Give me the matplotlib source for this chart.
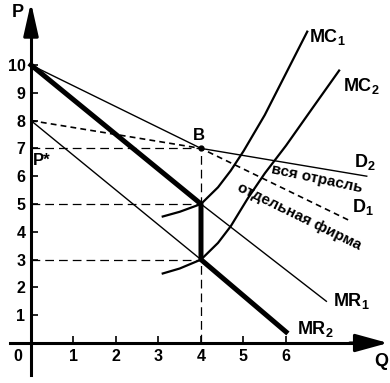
import matplotlib
matplotlib.use("Agg")
import matplotlib.pyplot as plt

plt.rcParams['font.family'] = ['Liberation Sans', 'DejaVu Sans']
plt.rcParams['font.weight'] = 'bold'
plt.rcParams['mathtext.fontset'] = 'custom'
plt.rcParams['mathtext.rm'] = 'Liberation Sans:bold'
plt.rcParams['mathtext.bf'] = 'Liberation Sans:bold'
plt.rcParams['mathtext.it'] = 'Liberation Sans:bold'

# ---- data ----
q_ticks = [1, 2, 3, 4, 5, 6]
p_ticks = [1, 2, 3, 4, 5, 6, 7, 8, 9, 10]

# industry demand D2 (solid thin) – kinked at B
d2_q = [0, 4, 7.9]
d2_p = [10, 7, 6.0]
# single firm demand D1 (dashed)
d1_q = [0, 4, 7.5]
d1_p = [8, 7, 4.4]
# kinked marginal revenue (thick)
mr_q = [0, 4, 4, 6]
mr_p = [10, 5, 3, 0.4]
# continuation of upper MR -> MR1 (thin)
mr1_q = [4, 6.95]
mr1_p = [5, 1.5]
# lower MR line before the kink (thin)
mr2a_q = [0, 4]
mr2a_p = [8, 3]
# marginal cost curves
mc1_q = [3.1, 3.5, 4.0, 4.4, 4.7, 5.0, 5.5, 6.0, 6.5]
mc1_p = [4.55, 4.72, 5.0, 5.6, 6.2, 6.9, 8.2, 9.7, 11.2]
mc2_q = [3.1, 3.5, 4.0, 4.4, 4.7, 5.1, 5.5, 6.0, 6.6, 7.25]
mc2_p = [2.5, 2.68, 3.0, 3.6, 4.2, 5.2, 6.1, 7.1, 8.4, 9.8]
# kink point B and guide levels
b_q, b_p = 4, 7
guide_p = [7, 5, 3]

fig = plt.figure(figsize=(3.9, 3.83), dpi=100)
ax = fig.add_axes([0, 0, 1, 1])
ax.set_xlim(-0.729, 8.447)
ax.set_ylim(-1.439, 12.338)

# axes as spines through origin
for s in ['top', 'right']:
    ax.spines[s].set_visible(False)
ax.spines['left'].set_position(('data', 0))
ax.spines['bottom'].set_position(('data', 0))
ax.spines['left'].set_linewidth(2.2)
ax.spines['bottom'].set_linewidth(2.2)
ax.spines['left'].set_bounds(-1.15, 11.5)
ax.spines['bottom'].set_bounds(-0.5, 7.8)
ax.annotate('', xy=(0, 12.25), xytext=(0, 11.0),
            arrowprops=dict(arrowstyle='-|>,head_length=2.0,head_width=0.45',
                            lw=2.2, color='black', shrinkA=0, shrinkB=0))
ax.annotate('', xy=(8.4, 0), xytext=(7.5, 0),
            arrowprops=dict(arrowstyle='-|>,head_length=2.0,head_width=0.55',
                            lw=2.2, color='black', shrinkA=0, shrinkB=0))

ax.set_xticks(q_ticks)
ax.set_yticks(p_ticks)
ax.set_xticklabels([str(v) for v in q_ticks], fontsize=11.5, fontweight='bold')
ax.set_yticklabels([str(v) for v in p_ticks], fontsize=11.5, fontweight='bold')
ax.tick_params(axis='both', direction='in', length=5, width=1.2, pad=4)

# guide dashed lines
dash = (0, (7, 4))
for p in guide_p:
    ax.plot([0, b_q], [p, p], color='black', lw=0.9, linestyle=dash)
ax.plot([b_q, b_q], [0, b_p], color='black', lw=0.9, linestyle=dash)

# demand curves
ax.plot(d2_q, d2_p, color='black', lw=1.0)
ax.plot(d1_q, d1_p, color='black', lw=1.2, linestyle=(0, (3.5, 2.5)))

# MR lines
ax.plot(mr2a_q, mr2a_p, color='black', lw=1.0)
ax.plot(mr1_q, mr1_p, color='black', lw=1.0)
ax.plot(mr_q, mr_p, color='black', lw=3.6, solid_joinstyle='round')

# MC curves
ax.plot(mc1_q, mc1_p, color='black', lw=1.6)
ax.plot(mc2_q, mc2_p, color='black', lw=1.6)

# point B
ax.plot([b_q], [b_p], 'o', color='black', ms=3.5)

# labels
ax.text(-0.45, 11.9, 'P', fontsize=13, fontweight='bold', ha='left', va='center')
ax.text(8.25, -0.65, 'Q', fontsize=13, fontweight='bold', ha='center', va='center')
ax.text(-0.3, -0.5, '0', fontsize=11.5, fontweight='bold', ha='center', va='center')
ax.text(3.95, 7.45, 'B', fontsize=12, fontweight='bold', ha='center', va='center')
ax.text(0.05, 6.55, 'P*', fontsize=12, fontweight='bold', ha='left', va='center')
ax.text(6.55, 11.0, r'$\mathbf{MC_1}$', fontsize=13, ha='left', va='center')
ax.text(7.35, 9.25, r'$\mathbf{MC_2}$', fontsize=13, ha='left', va='center')
ax.text(7.6, 6.5, r'$\mathbf{D_2}$', fontsize=13, ha='left', va='center')
ax.text(7.55, 4.9, r'$\mathbf{D_1}$', fontsize=13, ha='left', va='center')
ax.text(7.1, 1.5, r'$\mathbf{MR_1}$', fontsize=13, ha='left', va='center')
ax.text(6.25, 0.5, r'$\mathbf{MR_2}$', fontsize=13, ha='left', va='center')
ax.text(6.72, 5.92, 'вся отрасль', fontsize=11, fontweight='bold',
        ha='center', va='center', rotation=-12, rotation_mode='anchor')
ax.text(6.3, 4.55, 'отдельная фирма', fontsize=11, fontweight='bold',
        ha='center', va='center', rotation=-26, rotation_mode='anchor')

fig.savefig('out.png', dpi=100)
